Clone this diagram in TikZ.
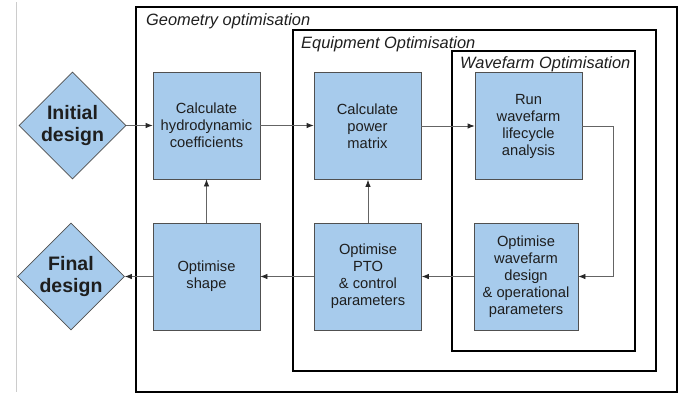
\documentclass[tikz,border=0pt]{standalone}
\usepackage{fontspec}
\setmainfont{Liberation Sans}
\usetikzlibrary{shapes.geometric,arrows.meta}
\definecolor{boxfill}{RGB}{167,203,236}
\definecolor{boxline}{RGB}{80,80,80}
\definecolor{txt}{RGB}{30,30,30}
\definecolor{conn}{RGB}{100,100,100}
\tikzset{
  procbox/.style={rectangle,draw=boxline,fill=boxfill,line width=0.8pt,minimum width=107pt,minimum height=107pt,inner sep=0pt,align=center,text=txt,font=\fontsize{14.7}{17}\selectfont},
  decision/.style={diamond,draw=boxline,fill=boxfill,line width=0.8pt,minimum width=107pt,minimum height=107pt,inner sep=0pt,align=center,text=txt,font=\fontsize{19.5}{22}\selectfont\bfseries},
  frame/.style={draw=black,line width=1.6pt},
  frametitle/.style={anchor=west,inner sep=0pt,text=txt,font=\fontsize{16.4}{18}\selectfont\itshape},
  flow/.style={draw=conn,line width=0.8pt,-{Latex[length=7pt,width=5.5pt,color=black!85]}}
}
\begin{document}
\begin{tikzpicture}[x=1pt,y=-1pt]
\useasboundingbox (0,0) rectangle (683,394);
\draw[black!20,line width=0.8pt] (16,2) -- (16,392);
% frames
\draw[frame] (136,7) rectangle (677,392);
\draw[frame] (293,30) rectangle (656,371);
\draw[frame] (452,51) rectangle (635,351);
\node[frametitle] (tgeo) at (146,21.5) {Geometry optimisation};
\node[frametitle] (teq) at (301,44.5) {Equipment Optimisation};
\node[frametitle] (twf) at (460,64.5) {Wavefarm Optimisation};
% nodes
\node[decision] (init) at (72.5,125.5) {Initial\\design};
\node[decision] (final) at (71,276.5) {Final\\design};
\node[procbox] (hydro) at (206.5,125.5) {Calculate\\hydrodynamic\\coefficients};
\node[procbox] (shape) at (206.5,276.5) {Optimise\\shape};
\node[procbox] (power) at (367.5,126) {Calculate\\power\\matrix};
\node[procbox] (pto) at (368,276.5) {Optimise\\PTO\\\& control\\parameters};
\node[procbox] (run) at (528.5,126) {Run\\wavefarm\\lifecycle\\analysis};
\node[procbox,minimum width=104pt] (optwf) at (526,276.5) {Optimise\\wavefarm\\design\\\& operational\\parameters};
% connectors
\draw[flow] (init.east) -- (hydro.west);
\draw[flow] (hydro.east) -- (power.west |- hydro.east);
\draw[flow] (power.east) -- (run.west);
\draw[flow] (run.east) -- ++(31,0) |- (optwf.east);
\draw[flow] (optwf.west) -- (pto.east |- optwf.west);
\draw[flow] (pto.west) -- (shape.east);
\draw[flow] (shape.west) -- (final.east);
\draw[flow] (shape.north) -- (hydro.south);
\draw[flow] (pto.north) -- (power.south -| pto.north);
\end{tikzpicture}
\end{document}
